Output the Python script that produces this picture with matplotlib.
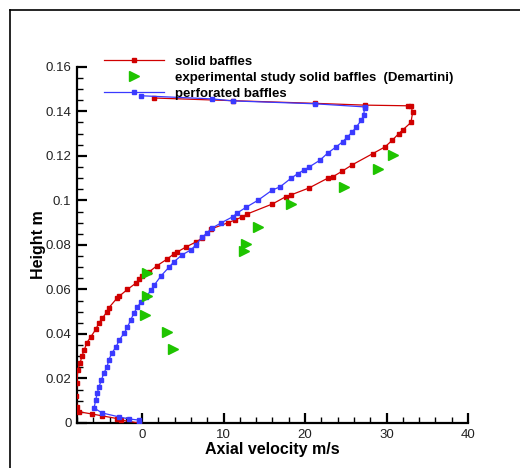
import numpy as np
import matplotlib
matplotlib.use("Agg")
import matplotlib.pyplot as plt
from matplotlib.lines import Line2D
from matplotlib.ticker import MultipleLocator

plt.rcParams["font.family"] = ["Liberation Sans", "DejaVu Sans"]

# solid baffles (CFD)
solid_v = [1.4, 11.1, 21.2, 27.3, 32.6, 33.0, 33.2, 33.0, 32.0, 31.5, 30.7, 29.8,
           28.3, 25.8, 24.5, 23.4, 22.8, 20.5, 18.3, 17.6, 16.0, 12.9, 12.3,
           11.4, 10.5, 8.5, 7.4, 6.6, 5.4, 4.3, 3.9, 3.1, 1.8, 0.9, 0.0, -0.4,
           -0.7, -1.8, -2.8, -3.1, -4.1, -4.3, -4.9, -5.3, -5.7, -6.3, -6.8,
           -7.1, -7.4, -7.6, -7.9, -8.0, -8.1, -8.0, -7.7, -6.1, -4.9, -3.1,
           -2.6, -0.4]
solid_h = [0.146, 0.1448, 0.1436, 0.1428, 0.1425, 0.1425, 0.1395, 0.135,
           0.1317, 0.130, 0.127, 0.124, 0.121, 0.116, 0.113, 0.1106, 0.110,
           0.1056, 0.1025, 0.1016, 0.0984, 0.0939, 0.0926, 0.0912, 0.0899,
           0.0872, 0.0831, 0.0813, 0.0791, 0.0768, 0.076, 0.0737, 0.0706,
           0.068, 0.066, 0.0647, 0.063, 0.060, 0.057, 0.056, 0.0517, 0.050,
           0.047, 0.045, 0.042, 0.0387, 0.036, 0.0328, 0.030, 0.027, 0.024,
           0.018, 0.012, 0.0072, 0.005, 0.004, 0.0032, 0.002, 0.0013, 0.0]

# perforated baffles (CFD)
perf_v = [-0.1, 8.6, 11.1, 21.2, 27.3, 27.3, 27.2, 26.9, 26.3, 25.8, 25.2,
          24.6, 23.8, 22.8, 21.8, 20.5, 19.9, 19.1, 18.3, 16.9, 16.0, 14.2,
          12.8, 11.7, 11.1, 9.7, 8.6, 8.0, 7.4, 6.6, 6.0, 4.9, 3.9, 3.3, 2.3,
          1.5, 1.1, 0.5, -0.1, -0.6, -1.0, -1.4, -1.8, -2.2, -2.8, -3.2, -3.7,
          -4.1, -4.3, -4.7, -5.0, -5.3, -5.5, -5.7, -5.9, -4.9, -2.8, -1.6,
          -0.4, -0.4]
perf_h = [0.147, 0.1456, 0.1447, 0.1434, 0.142, 0.1416, 0.1384, 0.136, 0.133,
          0.1308, 0.1285, 0.1263, 0.124, 0.1213, 0.118, 0.115, 0.1137, 0.112,
          0.110, 0.106, 0.1047, 0.100, 0.097, 0.0944, 0.0926, 0.0899, 0.0876,
          0.0854, 0.0836, 0.080, 0.0778, 0.0755, 0.0724, 0.070, 0.066, 0.062,
          0.0598, 0.0566, 0.0544, 0.0521, 0.0494, 0.0463, 0.0431, 0.0404,
          0.0373, 0.0342, 0.0315, 0.0283, 0.0252, 0.0225, 0.0193, 0.0162,
          0.0135, 0.0103, 0.0067, 0.0045, 0.0027, 0.0018, 0.0013, 0.0]

# experimental study (Demartini)
exp_v = [30.8, 28.9, 24.8, 18.3, 14.2, 12.8, 12.5, 0.6, 0.6, 0.4, 3.1, 3.8]
exp_h = [0.1204, 0.114, 0.106, 0.0984, 0.088, 0.0804, 0.0773, 0.0674, 0.057,
         0.0485, 0.041, 0.0333]

RED = "#d00000"
BLUE = "#3a3aff"
GREEN = "#1fc400"

fig = plt.figure(figsize=(5.2, 4.68), dpi=100)
ax = fig.add_axes([0.148, 0.0962, 0.752, 0.761])

ax.plot(solid_v, solid_h, color=RED, lw=0.9, marker="s", ms=3.2, mec=RED, mfc=RED,
        zorder=3)
ax.plot(perf_v, perf_h, color=BLUE, lw=0.9, marker="s", ms=3.2, mec=BLUE, mfc=BLUE,
        zorder=3)
ax.plot(exp_v, exp_h, ls="none", marker=">", ms=7, color=GREEN, mec=GREEN,
        zorder=4)

ax.set_xlim(-8, 40)
ax.set_ylim(0, 0.16)
ax.xaxis.set_minor_locator(MultipleLocator(2))
ax.yaxis.set_minor_locator(MultipleLocator(0.005))
ax.set_xticks([0, 10, 20, 30, 40])
ax.set_xticklabels(["0", "10", "20", "30", "40"])
ax.set_yticks([0, 0.02, 0.04, 0.06, 0.08, 0.1, 0.12, 0.14, 0.16])
ax.set_yticklabels(["0", "0.02", "0.04", "0.06", "0.08", "0.1", "0.12", "0.14",
                    "0.16"])

for side in ["top", "right"]:
    ax.spines[side].set_visible(False)
for side in ["left", "bottom"]:
    ax.spines[side].set_linewidth(1.6)
ax.tick_params(which="major", direction="in", length=7, width=1.6,
               labelsize=9.5, labelcolor="#222222", pad=4)
ax.tick_params(which="minor", direction="in", length=4, width=1.0)

ax.set_xlabel("Axial velocity m/s", fontsize=11.5, fontweight="bold", labelpad=1)
ax.yaxis.set_label_coords(-0.08, 0.44)
ax.set_ylabel("Height m", fontsize=11.5, fontweight="bold")

handles = [
    Line2D([], [], color=RED, lw=0.9, marker="s", ms=3.2),
    Line2D([], [], ls="none", marker=">", ms=7, color=GREEN),
    Line2D([], [], color=BLUE, lw=0.9, marker="s", ms=3.2),
]
labels = ["solid baffles", "experimental study solid baffles  (Demartini)",
          "perforated baffles"]
ax.legend(handles, labels, loc="upper left", bbox_to_anchor=(0.055, 1.047),
          frameon=False, handlelength=4.6, handletextpad=0.83, labelspacing=0.3,
          prop={"weight": "bold", "size": 9.5}, borderaxespad=0)

# outer frame (left and top edges visible)
fig.add_artist(Line2D([10 / 520, 10 / 520], [0, 1 - 10 / 468], color="black",
                      lw=1.2, transform=fig.transFigure))
fig.add_artist(Line2D([10 / 520, 1], [1 - 10 / 468, 1 - 10 / 468], color="black",
                      lw=1.2, transform=fig.transFigure))

fig.savefig("out.png", dpi=100)
